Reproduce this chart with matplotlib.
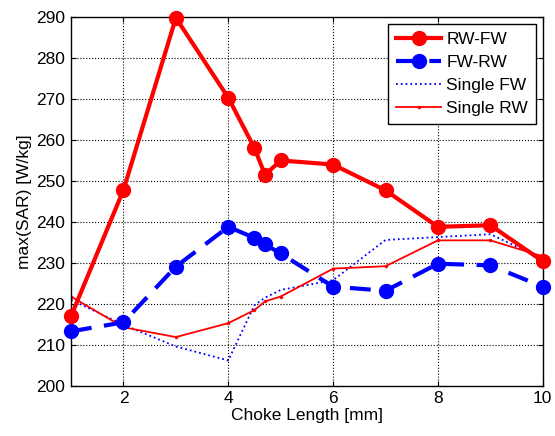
import matplotlib
matplotlib.use('Agg')
import matplotlib.pyplot as plt

plt.rcParams['font.family'] = ['Liberation Sans', 'DejaVu Sans']

# choke length [mm]
choke = [1, 2, 3, 4, 4.5, 4.7, 5, 6, 7, 8, 9, 10]

rw_fw = [217, 247.8, 289.8, 270.3, 258, 251.5, 255, 254, 247.7, 238.8, 239.2, 230.4]
fw_rw = [213.3, 215.5, 229.1, 238.8, 236.1, 234.5, 232.3, 224.2, 223.2, 229.8, 229.4, 224.2]
single_fw = [221, 214.9, 209.6, 206.2, 219.7, 221.5, 223.4, 225.8, 235.6, 236.3, 237, 231]
single_rw = [221.8, 214.3, 211.9, 215.3, 218.5, 220.6, 221.8, 228.6, 229.2, 235.5, 235.5, 231.6]

fig = plt.figure(figsize=(5.55, 4.36), dpi=100)
ax = fig.add_axes([0.128, 0.115, 0.85, 0.846])

ax.plot(choke, rw_fw, 'r-o', lw=3, ms=10, label='RW-FW', clip_on=False, zorder=4)
ax.plot(choke, fw_rw, 'b--o', lw=3, ms=10, dashes=(5, 3), label='FW-RW', clip_on=False, zorder=3)
ax.plot(choke, single_fw, 'b:', lw=1.3, label='Single FW')
ax.plot(choke, single_rw, 'r.-', lw=1.3, ms=3, label='Single RW')

ax.set_xlim(1, 10)
ax.set_ylim(200, 290)
ax.set_xticks([2, 4, 6, 8, 10])
ax.set_yticks(range(200, 291, 10))
ax.grid(True, color='k', linestyle=':', lw=0.8)
ax.tick_params(direction='in', labelsize=12.5, top=True, right=True, pad=4)
for s in ax.spines.values():
    s.set_linewidth(1)

ax.set_xlabel('Choke Length [mm]', fontsize=12.5, labelpad=1)
ax.set_ylabel('max(SAR) [W/kg]', fontsize=12.5, labelpad=3)

leg = ax.legend(loc='upper right', fontsize=12.5, fancybox=False, edgecolor='k',
                framealpha=1, handlelength=2.6, borderaxespad=0.4,
                labelspacing=0.45, borderpad=0.45, handletextpad=0.3)
leg.get_frame().set_linewidth(1)

fig.savefig('out.png', dpi=100)
